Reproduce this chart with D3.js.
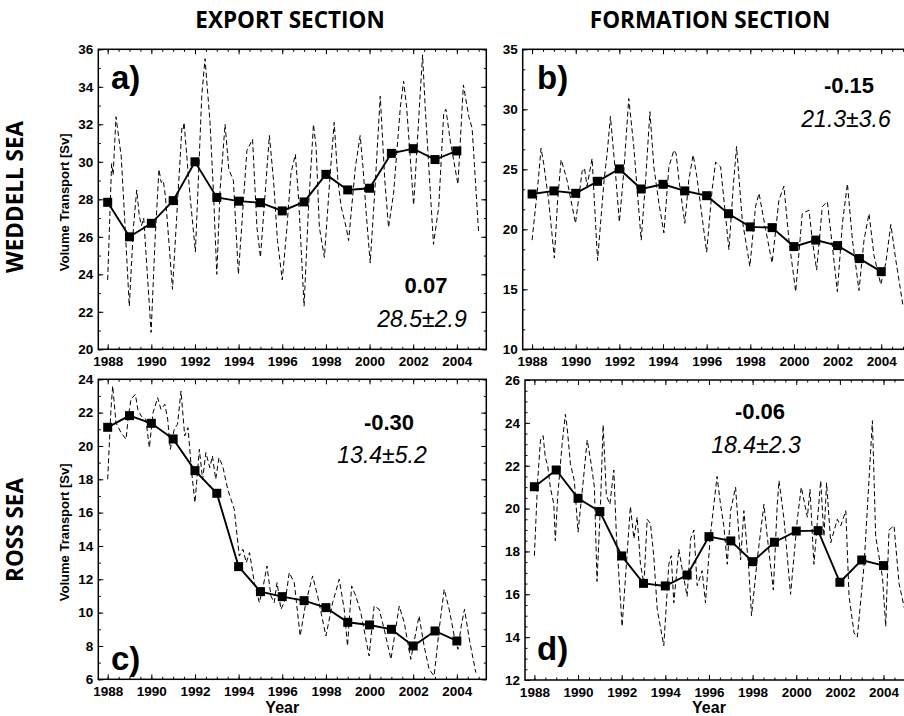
<!DOCTYPE html>
<html>
<head>
<meta charset="utf-8">
<script src="https://cdn.jsdelivr.net/npm/d3@7/dist/d3.min.js"></script>
<style>
body { margin: 0; background: #fff; }
text { font-family: "Liberation Sans", Arial, sans-serif; }
</style>
</head>
<body>
<div id="chart"></div>
<script>
// annual means (squares)
var years = [1988, 1989, 1990, 1991, 1992, 1993, 1994, 1995, 1996, 1997, 1998, 1999, 2000, 2001, 2002, 2003, 2004];
var yearTicks = [1988, 1990, 1992, 1994, 1996, 1998, 2000, 2002, 2004];

var exportWeddellAnnual = [27.84, 26.0, 26.72, 27.93, 30.0, 28.1, 27.9, 27.82, 27.38, 27.86, 29.33, 28.5, 28.59, 30.45, 30.7, 30.12, 30.58];
var formationWeddellAnnual = [22.94, 23.2, 23.0, 24.0, 25.03, 23.36, 23.75, 23.2, 22.8, 21.3, 20.2, 20.14, 18.56, 19.1, 18.64, 17.56, 16.47];
var exportRossAnnual = [21.12, 21.82, 21.36, 20.42, 18.52, 17.16, 12.76, 11.26, 10.96, 10.72, 10.3, 9.42, 9.26, 9.0, 8.0, 8.9, 8.3];
var formationRossAnnual = [21.02, 21.8, 20.48, 19.86, 17.79, 16.51, 16.39, 16.9, 18.69, 18.49, 17.52, 18.43, 18.95, 18.97, 16.56, 17.6, 17.34];

// sub-annual series (dashed), [time, Sv]
var exportWeddellMonthly = [[1988.00,23.7],[1988.18,29.9],[1988.25,29.3],[1988.38,32.4],[1988.62,30.3],[1988.80,26.5],[1988.99,22.3],[1989.18,26.5],[1989.33,28.5],[1989.45,27.1],[1989.55,26.6],[1989.65,27.0],[1989.99,20.9],[1990.17,25.8],[1990.35,29.6],[1990.45,28.9],[1990.55,29.0],[1990.65,28.1],[1990.97,23.2],[1991.28,29.4],[1991.40,31.8],[1991.45,31.7],[1991.50,32.1],[1991.78,28.1],[1992.02,25.2],[1992.31,33.5],[1992.46,35.5],[1992.69,32.1],[1992.85,28.3],[1993.00,24.0],[1993.15,28.5],[1993.38,32.0],[1993.55,29.6],[1993.76,29.0],[1993.99,24.0],[1994.38,30.6],[1994.64,31.2],[1994.84,26.5],[1995.00,24.9],[1995.41,31.4],[1995.60,29.0],[1995.78,25.8],[1996.00,23.7],[1996.20,26.3],[1996.40,29.4],[1996.60,30.4],[1996.75,28.0],[1997.00,22.3],[1997.20,27.5],[1997.43,32.0],[1997.55,30.8],[1997.70,26.5],[1997.93,24.9],[1998.20,29.4],[1998.38,32.1],[1998.55,29.0],[1998.70,27.6],[1998.93,26.5],[1999.04,25.8],[1999.35,29.7],[1999.57,31.4],[1999.70,29.7],[1999.85,27.2],[2000.03,24.6],[2000.25,28.6],[2000.49,33.5],[2000.70,29.0],[2000.87,26.5],[2001.10,28.3],[2001.41,32.9],[2001.56,34.3],[2001.70,32.9],[2002.02,27.7],[2002.33,33.8],[2002.43,35.7],[2002.55,32.9],[2002.78,28.5],[2002.93,25.6],[2003.17,27.6],[2003.40,32.6],[2003.50,32.8],[2003.70,31.1],[2004.05,28.8],[2004.30,34.1],[2004.55,32.4],[2004.70,31.8],[2005.00,26.2]];

var formationWeddellMonthly = [[1988.00,19.1],[1988.26,23.6],[1988.41,26.75],[1988.53,25.5],[1988.76,22.4],[1989.02,17.6],[1989.17,22.4],[1989.33,25.8],[1989.45,25.1],[1989.60,24.1],[1989.99,20.5],[1990.29,24.8],[1990.40,25.1],[1990.52,23.6],[1990.75,25.9],[1991.00,17.4],[1991.30,24.1],[1991.44,26.3],[1991.59,29.4],[1991.82,24.7],[1992.00,20.6],[1992.20,24.7],[1992.43,30.9],[1992.66,26.9],[1993.00,19.1],[1993.20,24.0],[1993.40,29.8],[1993.58,25.2],[1993.81,22.2],[1994.04,19.7],[1994.27,25.2],[1994.50,26.6],[1994.60,26.3],[1994.73,24.1],[1995.00,20.5],[1995.18,24.1],[1995.38,26.2],[1995.55,24.4],[1996.00,18.1],[1996.25,23.3],[1996.41,25.6],[1996.64,25.2],[1997.02,18.3],[1997.22,23.6],[1997.37,26.9],[1997.63,20.8],[1997.98,16.9],[1998.24,21.9],[1998.40,23.0],[1998.70,20.0],[1999.00,17.2],[1999.31,22.4],[1999.54,23.6],[1999.77,19.1],[2000.08,14.8],[2000.38,21.3],[2000.69,21.6],[2000.84,19.1],[2001.04,16.6],[2001.30,21.9],[2001.53,22.3],[2001.76,18.6],[2001.99,14.8],[2002.22,20.5],[2002.45,23.8],[2002.68,19.1],[2002.98,14.9],[2003.21,19.1],[2003.44,21.3],[2003.67,17.8],[2003.98,15.4],[2004.21,17.2],[2004.44,20.4],[2004.67,17.4],[2005.00,13.6]];

var exportRossMonthly = [[1988.00,18.0],[1988.15,22.2],[1988.23,23.6],[1988.38,21.4],[1988.61,20.8],[1988.84,20.4],[1988.95,21.8],[1989.07,22.8],[1989.27,23.1],[1989.38,22.2],[1989.53,21.8],[1989.75,21.6],[1989.91,19.9],[1990.08,22.0],[1990.29,22.9],[1990.44,22.2],[1990.62,22.5],[1990.75,21.6],[1990.87,19.8],[1991.05,21.0],[1991.20,21.3],[1991.36,23.3],[1991.53,20.6],[1991.68,21.1],[1991.85,18.4],[1992.00,16.6],[1992.20,19.8],[1992.35,18.0],[1992.50,19.6],[1992.68,18.7],[1992.80,19.4],[1992.95,18.0],[1993.10,19.3],[1993.27,18.8],[1993.50,17.4],[1993.80,16.2],[1994.03,13.4],[1994.20,13.8],[1994.35,13.0],[1994.50,13.6],[1994.72,11.8],[1994.95,10.6],[1995.10,11.4],[1995.30,12.8],[1995.48,11.0],[1995.63,10.6],[1995.76,11.8],[1995.94,10.2],[1996.15,10.8],[1996.32,12.4],[1996.55,11.8],[1996.82,8.6],[1997.08,10.6],[1997.39,12.2],[1997.62,11.0],[1998.00,8.6],[1998.31,10.6],[1998.61,12.0],[1998.84,10.2],[1998.99,8.0],[1999.18,11.6],[1999.37,11.0],[1999.60,10.0],[1999.98,7.4],[2000.21,10.4],[2000.44,10.2],[2000.67,9.0],[2000.98,7.2],[2001.36,10.4],[2001.59,9.4],[2001.89,7.2],[2002.12,8.8],[2002.27,9.8],[2002.50,8.0],[2002.73,6.6],[2002.96,6.2],[2003.19,9.0],[2003.42,11.4],[2003.65,10.2],[2003.88,8.6],[2004.05,7.8],[2004.20,9.2],[2004.35,10.2],[2004.60,8.2],[2004.87,6.4]];

var formationRossMonthly = [[1988.00,17.8],[1988.15,21.3],[1988.28,23.2],[1988.40,23.4],[1988.50,22.4],[1988.61,22.0],[1988.73,21.0],[1988.89,20.2],[1988.96,18.5],[1989.07,20.6],[1989.27,23.0],[1989.42,24.4],[1989.50,23.8],[1989.65,22.1],[1989.83,21.3],[1990.00,18.9],[1990.23,21.2],[1990.42,23.2],[1990.57,22.3],[1990.75,21.0],[1990.87,16.6],[1991.03,20.2],[1991.15,23.9],[1991.30,20.6],[1991.46,20.2],[1991.64,21.8],[1991.76,18.7],[1992.02,14.5],[1992.25,17.9],[1992.40,20.1],[1992.56,18.6],[1992.71,19.6],[1992.86,17.4],[1993.02,16.5],[1993.17,19.5],[1993.32,19.3],[1993.47,17.8],[1993.63,15.3],[1993.93,13.6],[1994.16,17.4],[1994.27,17.8],[1994.39,15.6],[1994.62,18.1],[1994.77,17.2],[1995.00,15.9],[1995.16,18.6],[1995.31,19.0],[1995.46,16.4],[1995.69,17.1],[1995.84,15.6],[1996.06,18.7],[1996.37,21.5],[1996.53,20.2],[1996.68,19.2],[1996.84,17.4],[1996.99,19.9],[1997.22,21.0],[1997.45,17.6],[1997.60,19.9],[1997.83,17.1],[1997.95,15.0],[1998.21,17.6],[1998.52,20.2],[1998.67,18.7],[1998.95,16.2],[1999.13,20.2],[1999.21,21.3],[1999.44,19.5],[1999.74,16.0],[2000.05,19.5],[2000.23,21.0],[2000.51,19.6],[2000.63,20.9],[2000.81,17.4],[2001.12,21.3],[2001.27,18.7],[2001.39,21.2],[2001.58,18.4],[2001.88,19.5],[2002.04,19.2],[2002.27,19.9],[2002.42,15.9],[2002.65,14.2],[2002.80,14.0],[2003.11,17.4],[2003.49,24.1],[2003.64,18.7],[2003.95,16.8],[2004.10,14.5],[2004.25,19.0],[2004.48,19.2],[2004.71,16.5],[2004.97,15.3]];

var trends = ["0.07", "-0.15", "-0.30", "-0.06"];
var means = ["28.5\u00b12.9", "21.3\u00b13.6", "13.4\u00b15.2", "18.4\u00b12.3"];
var panelLabels = ["a)", "b)", "c)", "d)"];

var width = 904, height = 716,
    panelW = 388, panelH = 300,
    xDomain = [1987.57, 2005.35];

var svg = d3.select("#chart").append("svg")
    .attr("width", width)
    .attr("height", height);

var panels = [
  {left: 98.3, top: 49.3, yDomain: [20, 36], major: 2, minor: 1, annual: exportWeddellAnnual, monthly: exportWeddellMonthly,
   labelPos: [111, 89], trendPos: [426, 293], meanPos: [422, 327], ylab: true, xlab: false},
  {left: 522.7, top: 49.3, yDomain: [10, 35], major: 5, minor: 5 / 3, annual: formationWeddellAnnual, monthly: formationWeddellMonthly,
   labelPos: [537, 89], trendPos: [849, 93], meanPos: [846, 127], ylab: false, xlab: false},
  {left: 98.3, top: 379.3, yDomain: [6, 24], major: 2, minor: 1, annual: exportRossAnnual, monthly: exportRossMonthly,
   labelPos: [111, 670], trendPos: [389, 430], meanPos: [382, 463], ylab: true, xlab: true},
  {left: 525, top: 380, yDomain: [12, 26], major: 2, minor: 0.5, annual: formationRossAnnual, monthly: formationRossMonthly,
   labelPos: [537, 660], trendPos: [760, 419], meanPos: [756, 453], ylab: false, xlab: true}
];

function styleAxis(sel) {
  sel.select(".domain").remove();
  sel.selectAll(".tick line").attr("stroke", "#000").attr("stroke-width", 1);
  sel.selectAll("text")
      .attr("fill", "#000")
      .style("font-family", "'Liberation Sans', Arial, sans-serif")
      .style("font-weight", "bold")
      .style("font-size", "13.5px");
}

panels.forEach(function(p, i) {
  var x = d3.scaleLinear().domain(xDomain).range([p.left, p.left + panelW]);
  var y = d3.scaleLinear().domain(p.yDomain).range([p.top + panelH, p.top]);
  var g = svg.append("g").attr("class", "panel");

  var xMinor = d3.range(1987.5, 2005.5, 0.5).filter(function(d) { return d >= xDomain[0] && d <= xDomain[1]; });
  var yMinor = d3.range(p.yDomain[0], p.yDomain[1] + 0.001, p.minor);
  var yMajor = d3.range(p.yDomain[0], p.yDomain[1] + 0.001, p.major);

  // x axes (ticks inward)
  g.append("g").attr("transform", "translate(0," + (p.top + panelH) + ")")
      .call(d3.axisBottom(x).tickValues(xMinor).tickSize(-2.5).tickFormat(""))
      .call(styleAxis);
  g.append("g").attr("transform", "translate(0," + (p.top + panelH) + ")")
      .call(d3.axisBottom(x).tickValues(yearTicks).tickSize(-5).tickPadding(7).tickFormat(d3.format("d")))
      .call(styleAxis);
  g.append("g").attr("transform", "translate(0," + p.top + ")")
      .call(d3.axisTop(x).tickValues(xMinor).tickSize(-2.5).tickFormat(""))
      .call(styleAxis);
  g.append("g").attr("transform", "translate(0," + p.top + ")")
      .call(d3.axisTop(x).tickValues(yearTicks).tickSize(-5).tickFormat(""))
      .call(styleAxis);

  // y axes
  g.append("g").attr("transform", "translate(" + p.left + ",0)")
      .call(d3.axisLeft(y).tickValues(yMinor).tickSize(-2.5).tickFormat(""))
      .call(styleAxis);
  g.append("g").attr("transform", "translate(" + p.left + ",0)")
      .call(d3.axisLeft(y).tickValues(yMajor).tickSize(-5).tickPadding(5).tickFormat(d3.format("d")))
      .call(styleAxis);
  g.append("g").attr("transform", "translate(" + (p.left + panelW) + ",0)")
      .call(d3.axisRight(y).tickValues(yMinor).tickSize(-2.5).tickFormat(""))
      .call(styleAxis);
  g.append("g").attr("transform", "translate(" + (p.left + panelW) + ",0)")
      .call(d3.axisRight(y).tickValues(yMajor).tickSize(-5).tickFormat(""))
      .call(styleAxis);

  // frame
  g.append("rect")
      .attr("x", p.left).attr("y", p.top)
      .attr("width", panelW).attr("height", panelH)
      .attr("fill", "none").attr("stroke", "#000").attr("stroke-width", 1.5);

  var clipId = "clip" + i;
  svg.append("clipPath").attr("id", clipId).append("rect")
      .attr("x", p.left).attr("y", p.top).attr("width", panelW).attr("height", panelH);

  var plot = g.append("g").attr("clip-path", "url(#" + clipId + ")");

  plot.append("path")
      .datum(p.monthly)
      .attr("fill", "none")
      .attr("stroke", "#000")
      .attr("stroke-width", 1)
      .attr("stroke-dasharray", "5,3")
      .attr("d", d3.line().x(function(d) { return x(d[0]); }).y(function(d) { return y(d[1]); }));

  plot.append("path")
      .datum(p.annual)
      .attr("fill", "none")
      .attr("stroke", "#000")
      .attr("stroke-width", 1.9)
      .attr("d", d3.line().x(function(d, j) { return x(years[j]); }).y(function(d) { return y(d); }));

  plot.selectAll("rect.sq")
      .data(p.annual)
    .enter().append("rect")
      .attr("class", "sq")
      .attr("x", function(d, j) { return x(years[j]) - 4.5; })
      .attr("y", function(d) { return y(d) - 4.5; })
      .attr("width", 9).attr("height", 9)
      .attr("fill", "#000");

  // annotations
  g.append("text")
      .attr("x", p.labelPos[0]).attr("y", p.labelPos[1])
      .style("font-weight", "bold").style("font-size", "33px")
      .text(panelLabels[i]);
  g.append("text")
      .attr("x", p.trendPos[0]).attr("y", p.trendPos[1])
      .attr("text-anchor", "middle")
      .style("font-weight", "bold").style("font-size", "22px")
      .text(trends[i]);
  g.append("text")
      .attr("x", p.meanPos[0]).attr("y", p.meanPos[1])
      .attr("text-anchor", "middle")
      .style("font-style", "italic").style("font-size", "23px")
      .text(means[i]);

  if (p.ylab) {
    g.append("text")
        .attr("transform", "translate(69," + (p.top + panelH / 2 + 3) + ") rotate(-90)")
        .attr("text-anchor", "middle")
        .style("font-weight", "bold").style("font-size", "13px")
        .text("Volume Transport [Sv]");
  }
  if (p.xlab) {
    g.append("text")
        .attr("x", x(1996)).attr("y", 713)
        .attr("text-anchor", "middle")
        .style("font-weight", "bold").style("font-size", "16px")
        .text("Year");
  }
});

// column and row headings
var headFont = "'Open Sans', 'DejaVu Sans', sans-serif";
svg.append("text").attr("x", 290).attr("y", 28).attr("text-anchor", "middle")
    .style("font-family", headFont).style("font-weight", "bold").style("font-size", "22.5px")
    .text("EXPORT SECTION");
svg.append("text").attr("x", 710).attr("y", 28).attr("text-anchor", "middle")
    .style("font-family", headFont).style("font-weight", "bold").style("font-size", "22.5px")
    .text("FORMATION SECTION");
svg.append("text").attr("transform", "translate(23,197) rotate(-90)").attr("text-anchor", "middle")
    .style("font-family", headFont).style("font-weight", "bold").style("font-size", "22.5px")
    .text("WEDDELL SEA");
svg.append("text").attr("transform", "translate(23,530) rotate(-90)").attr("text-anchor", "middle")
    .style("font-family", headFont).style("font-weight", "bold").style("font-size", "22.5px")
    .text("ROSS SEA");
</script>
</body>
</html>
